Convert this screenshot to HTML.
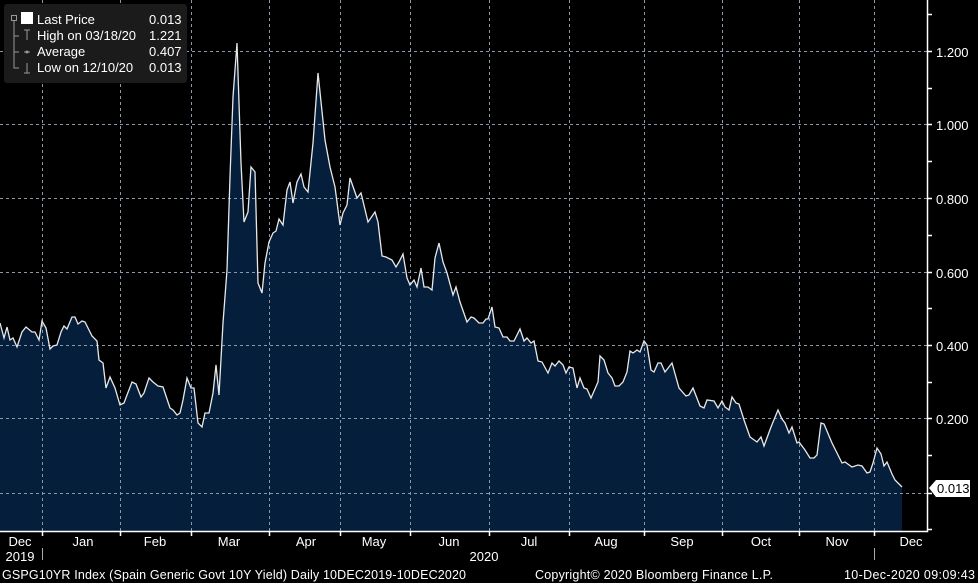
<!DOCTYPE html>
<html><head><meta charset="utf-8"><style>
body{margin:0;background:#000;width:978px;height:583px;overflow:hidden;font-family:"Liberation Sans",sans-serif;color:#fff}
svg{position:absolute;left:0;top:0}
</style></head><body>
<svg width="978" height="583" viewBox="0 0 978 583" font-family="Liberation Sans, sans-serif">
<rect width="978" height="583" fill="#000"/>
<polygon fill="#041e3b" points="0,531 0,323 4,338 7,327 10,340 13,338 17,347 22,332 26,327 32,332 35,332 39,340 42,321 46,328 50,349 53,346 57,345 61,332 64,326 67,329 72,317 75,317 78,324 82,321 85,322 92,336 97,341 99,360 103,363 106,388 110,377 115,388 120,405 124,403 127,395 132,382 136,384 141,397 144,393 149,378 153,382 158,386 163,387 170,408 173,410 177,415 180,413 183,400 187,378 191,388 194,388 198,423 202,427 205,413 209,413 213,393 216,365 219,395 223,323 227,270 230,177 233,97 237,43 241,163 244,222 248,212 251,167 255,172 258,283 262,293 265,263 269,242 273,233 276,231 279,219 283,225 287,190 290,182 293,203 297,182 301,174 304,187 308,192 313,143 318,73 325,140 330,167 335,187 340,225 343,213 347,205 350,178 357,198 361,193 368,222 375,212 378,222 382,256 386,257 392,260 396,267 399,262 403,254 407,278 410,285 414,280 417,287 421,268 424,287 428,287 432,290 435,258 439,243 443,262 447,273 453,295 456,287 460,302 467,322 471,317 474,318 479,323 483,323 486,319 488,319 492,307 495,327 499,328 503,337 507,337 510,341 514,341 520,329 524,341 527,338 531,343 534,341 538,361 542,362 548,373 552,363 555,366 559,361 563,365 566,373 569,367 573,368 577,388 580,378 584,388 587,389 591,398 598,382 600,356 604,360 608,373 612,378 615,386 619,386 623,382 627,372 630,351 633,353 637,350 640,352 644,341 647,345 651,370 654,372 658,363 661,363 665,372 672,363 679,388 686,396 689,395 693,388 700,406 704,408 707,400 714,401 718,408 722,401 725,407 729,410 732,397 736,403 739,404 744,420 750,437 757,442 761,437 764,446 771,427 778,410 782,419 785,423 789,433 792,427 797,443 799,442 805,450 810,458 814,458 817,455 821,423 824,424 832,443 837,453 842,463 845,462 852,467 858,465 862,466 867,473 870,472 873,463 877,448 881,454 884,466 887,462 892,474 895,480 902,487 902,531"/>
<g stroke="#8a98aa" stroke-width="1" stroke-dasharray="3,3" fill="none">
<path d="M0 51.5H927M0 124.5H927M0 198.5H927M0 272.5H927M0 345.5H927M0 418.5H927M0 493.5H927"/>
<path d="M42.5 0V531M120.5 0V531M191.5 0V531M269.5 0V531M340.5 0V531M410.5 0V531M489.5 0V531M569.5 0V531M644.5 0V531M722.5 0V531M799.5 0V531M874.5 0V531"/>
</g>
<polyline fill="none" stroke="#e8e8e8" stroke-width="1.3" points="0,323 4,338 7,327 10,340 13,338 17,347 22,332 26,327 32,332 35,332 39,340 42,321 46,328 50,349 53,346 57,345 61,332 64,326 67,329 72,317 75,317 78,324 82,321 85,322 92,336 97,341 99,360 103,363 106,388 110,377 115,388 120,405 124,403 127,395 132,382 136,384 141,397 144,393 149,378 153,382 158,386 163,387 170,408 173,410 177,415 180,413 183,400 187,378 191,388 194,388 198,423 202,427 205,413 209,413 213,393 216,365 219,395 223,323 227,270 230,177 233,97 237,43 241,163 244,222 248,212 251,167 255,172 258,283 262,293 265,263 269,242 273,233 276,231 279,219 283,225 287,190 290,182 293,203 297,182 301,174 304,187 308,192 313,143 318,73 325,140 330,167 335,187 340,225 343,213 347,205 350,178 357,198 361,193 368,222 375,212 378,222 382,256 386,257 392,260 396,267 399,262 403,254 407,278 410,285 414,280 417,287 421,268 424,287 428,287 432,290 435,258 439,243 443,262 447,273 453,295 456,287 460,302 467,322 471,317 474,318 479,323 483,323 486,319 488,319 492,307 495,327 499,328 503,337 507,337 510,341 514,341 520,329 524,341 527,338 531,343 534,341 538,361 542,362 548,373 552,363 555,366 559,361 563,365 566,373 569,367 573,368 577,388 580,378 584,388 587,389 591,398 598,382 600,356 604,360 608,373 612,378 615,386 619,386 623,382 627,372 630,351 633,353 637,350 640,352 644,341 647,345 651,370 654,372 658,363 661,363 665,372 672,363 679,388 686,396 689,395 693,388 700,406 704,408 707,400 714,401 718,408 722,401 725,407 729,410 732,397 736,403 739,404 744,420 750,437 757,442 761,437 764,446 771,427 778,410 782,419 785,423 789,433 792,427 797,443 799,442 805,450 810,458 814,458 817,455 821,423 824,424 832,443 837,453 842,463 845,462 852,467 858,465 862,466 867,473 870,472 873,463 877,448 881,454 884,466 887,462 892,474 895,480 902,487"/>
<g stroke="#fff" stroke-width="1.5" fill="none">
<path d="M0 531.5H927.5V0"/>
<path d="M927 14.5H932M927 51.5H932M927 88.5H932M927 124.5H932M927 161.5H932M927 198.5H932M927 235.5H932M927 272.5H932M927 308.5H932M927 345.5H932M927 382.5H932M927 418.5H932M927 455.5H932M927 493.5H932M927 529.5H932"/>
<path d="M42.5 531V536M120.5 531V536M191.5 531V536M269.5 531V536M340.5 531V536M410.5 531V536M489.5 531V536M569.5 531V536M644.5 531V536M722.5 531V536M799.5 531V536M874.5 531V536"/>
<path d="M42.5 548V560M874.5 548V560" stroke-width="1" stroke="#aaa"/>
</g>
<g fill="#fff" font-size="13" text-anchor="start">
<text x="936" y="57">1.200</text><text x="936" y="130">1.000</text><text x="936" y="204">0.800</text><text x="936" y="278">0.600</text><text x="936" y="351">0.400</text><text x="936" y="424">0.200</text>
</g>
<polygon points="929,488 936,480 970,480 970,497 936,497" fill="#fff"/>
<text x="937" y="493" font-size="13" fill="#000">0.013</text>
<g fill="#fff" font-size="13" text-anchor="middle">
<text x="20" y="546">Dec</text><text x="20" y="561">2019</text>
<text x="83" y="546">Jan</text><text x="155" y="546">Feb</text><text x="229" y="546">Mar</text><text x="306" y="546">Apr</text>
<text x="374" y="546">May</text><text x="449" y="546">Jun</text><text x="529" y="546">Jul</text><text x="606" y="546">Aug</text>
<text x="682" y="546">Sep</text><text x="761" y="546">Oct</text><text x="837" y="546">Nov</text><text x="911" y="546">Dec</text>
<text x="484" y="561">2020</text>
</g>
<g fill="#fff" font-size="12.5">
<text x="2" y="579" textLength="464" lengthAdjust="spacing">GSPG10YR Index (Spain Generic Govt 10Y Yield)  Daily 10DEC2019-10DEC2020</text>
<text x="535" y="579" textLength="238" lengthAdjust="spacing">Copyright© 2020 Bloomberg Finance L.P.</text>
<text x="844" y="579" textLength="131" lengthAdjust="spacing">10-Dec-2020 09:09:43</text>
</g>
<rect x="4" y="4" width="183" height="79" rx="3" fill="#1b1b1b"/>
<g stroke="#999" fill="none" stroke-width="1">
<rect x="11.5" y="15.5" width="5" height="5"/>
<path d="M14 21V68H19M14 36H19M14 52H19"/>
<path d="M24 30H30M27 30V40M24 52H30M24 73H30M27 63V73"/>
</g>
<circle cx="27" cy="52" r="1.5" fill="#999"/>
<rect x="21" y="12" width="12" height="12" fill="#fff"/>
<g fill="#fff" font-size="13">
<text x="37" y="24">Last Price</text><text x="149" y="24">0.013</text>
<text x="37" y="40">High on 03/18/20</text><text x="149" y="40">1.221</text>
<text x="37" y="56">Average</text><text x="149" y="56">0.407</text>
<text x="37" y="72">Low on 12/10/20</text><text x="149" y="72">0.013</text>
</g>
</svg>
</body></html>
